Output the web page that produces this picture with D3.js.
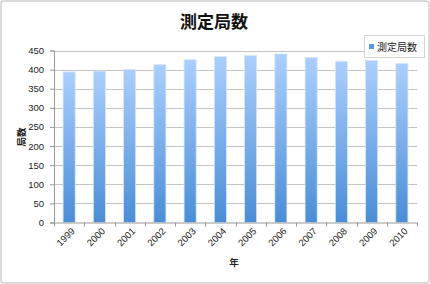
<!DOCTYPE html>
<html><head><meta charset="utf-8">
<script src="https://cdn.jsdelivr.net/npm/d3@7/dist/d3.min.js"></script>
<style>
html,body{margin:0;padding:0;background:#fff;}
svg{display:block;font-family:"Liberation Sans","Noto Sans CJK JP",sans-serif;}
</style></head>
<body>
<svg id="chart" width="430" height="284"></svg>
<script>
const years = ["1999","2000","2001","2002","2003","2004","2005","2006","2007","2008","2009","2010"];
const counts = [394, 396, 400, 413, 426, 434, 437, 441, 432, 422, 424, 416];
const yTicks = [0, 50, 100, 150, 200, 250, 300, 350, 400, 450];
const seriesName = "測定局数";
const titleText = "測定局数";
const xTitle = "年";
const yTitle = "局数";

const svg = d3.select("#chart");
const W = 430, H = 284;
const m = {left: 54, right: 13, top: 50.5, bottom: 61.5};

svg.append("rect").attr("x", 1).attr("y", 1).attr("width", W - 2).attr("height", H - 2)
  .attr("rx", 3).attr("fill", "#fff").attr("stroke", "#d0d0d0").attr("stroke-width", 1.5);

const defs = svg.append("defs");
const grad = defs.append("linearGradient").attr("id", "barGrad")
  .attr("x1", 0).attr("y1", 0).attr("x2", 0).attr("y2", 1);
grad.append("stop").attr("offset", "0%").attr("stop-color", "#abcffd");
grad.append("stop").attr("offset", "100%").attr("stop-color", "#4a8dd6");

const x = d3.scaleBand().domain(years).range([m.left, W - m.right]).paddingInner(0.6).paddingOuter(0.3);
const y = d3.scaleLinear().domain([0, 450]).range([H - m.bottom, m.top]);

// gridlines
svg.append("g").selectAll("line").data(yTicks.filter(d => d > 0)).join("line")
  .attr("x1", m.left).attr("x2", W - m.right)
  .attr("y1", d => Math.round(y(d)) + 0.5).attr("y2", d => Math.round(y(d)) + 0.5)
  .attr("stroke", "#c4c4c4").attr("stroke-width", 1);

// bars
svg.append("g").selectAll("rect").data(years).join("rect")
  .attr("x", d => x(d)).attr("width", x.bandwidth())
  .attr("y", (d, i) => y(counts[i])).attr("height", (d, i) => y(0) - y(counts[i]))
  .attr("fill", "url(#barGrad)").attr("stroke", "#d6e6f8").attr("stroke-width", 0.8);

// y axis
const yAxis = d3.axisLeft(y).tickValues(yTicks).tickSize(4).tickPadding(6);
const gy = svg.append("g").attr("transform", `translate(${m.left},0)`).call(yAxis);
gy.select(".domain").attr("stroke", "#9a9a9a");
gy.selectAll(".tick line").attr("stroke", "#9a9a9a");
gy.selectAll(".tick text").attr("font-size", 9.5).attr("fill", "#222");

// x axis with ticks at band edges
const gx = svg.append("g").attr("transform", `translate(0,${y(0)})`);
gx.append("line").attr("x1", m.left).attr("x2", W - m.right).attr("y1", 0.5).attr("y2", 0.5).attr("stroke", "#9a9a9a");
const step = x.step();
const edges = d3.range(years.length + 1).map(i => m.left + (W - m.left - m.right) * i / years.length);
gx.selectAll("line.tk").data(edges).join("line").attr("class", "tk")
  .attr("x1", d => Math.round(d) + 0.5).attr("x2", d => Math.round(d) + 0.5)
  .attr("y1", 0).attr("y2", 4).attr("stroke", "#9a9a9a");
gx.selectAll("text").data(years).join("text")
  .attr("transform", d => `translate(${x(d) + x.bandwidth() / 2 + 4},${7}) rotate(-45)`)
  .attr("text-anchor", "end").attr("dy", "0.35em")
  .attr("font-size", 9.5).attr("fill", "#222").text(d => d);

// titles
svg.append("text").attr("x", 214).attr("y", 28).attr("text-anchor", "middle")
  .attr("font-size", 17).attr("font-weight", "bold").attr("fill", "#111")
  .attr("font-family", "'Noto Sans CJK JP',sans-serif").text(titleText);
svg.append("text").attr("x", 234).attr("y", 266).attr("text-anchor", "middle")
  .attr("font-size", 9.5).attr("font-weight", "bold").attr("fill", "#222")
  .attr("font-family", "'Noto Sans CJK JP',sans-serif").text(xTitle);
svg.append("text").attr("transform", "translate(25,137) rotate(-90)").attr("text-anchor", "middle")
  .attr("font-size", 9.5).attr("font-weight", "bold").attr("fill", "#222")
  .attr("font-family", "'Noto Sans CJK JP',sans-serif").text(yTitle);

// legend
const lg = svg.append("g").attr("transform", "translate(364,35)");
lg.append("rect").attr("x", 0.5).attr("y", 0.5).attr("width", 60).attr("height", 22)
  .attr("fill", "#fff").attr("stroke", "#d4d4d4");
lg.append("rect").attr("x", 5).attr("y", 9).attr("width", 5).attr("height", 5).attr("fill", "#5b9be0");
lg.append("text").attr("x", 13).attr("y", 12).attr("dy", "0.35em").attr("font-size", 10)
  .attr("fill", "#222").attr("font-family", "'Noto Sans CJK JP',sans-serif").text(seriesName);
</script>
</body></html>
